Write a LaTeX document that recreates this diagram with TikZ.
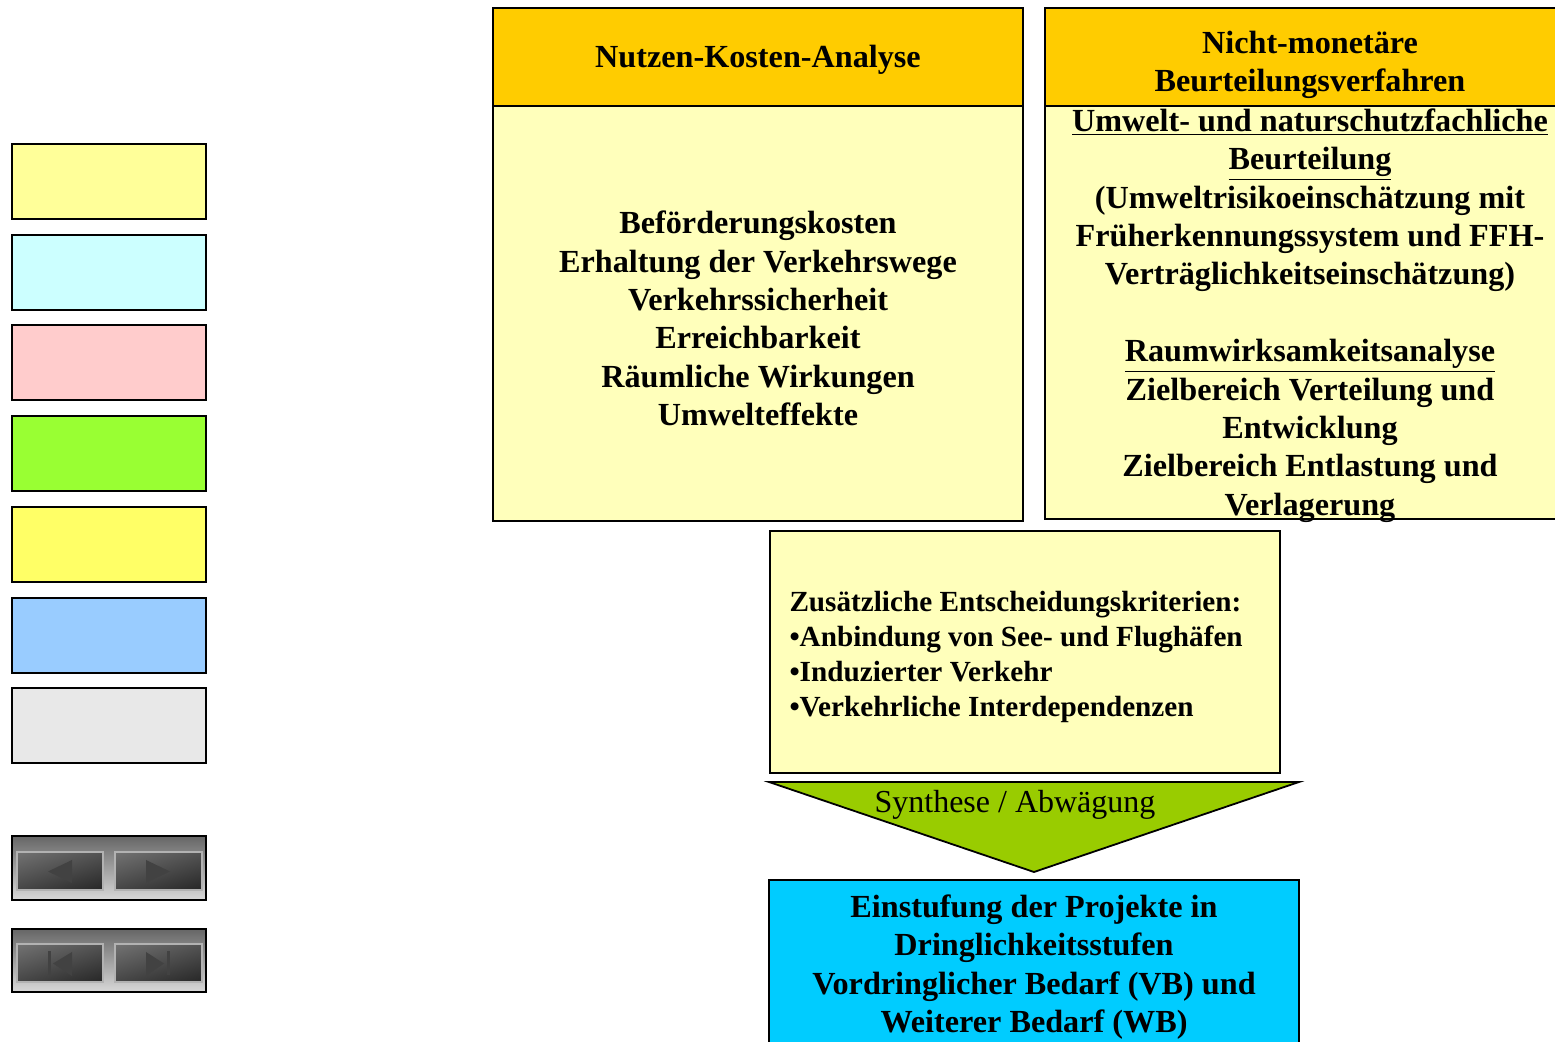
\documentclass[tikz,border=0pt]{standalone}
\usepackage{fontspec}
\setmainfont{Liberation Serif}
\usepackage{xcolor}
\usetikzlibrary{positioning,shadings}
\definecolor{kopf}{HTML}{FFCC00}
\definecolor{hellgelb}{HTML}{FFFFBB}
\definecolor{legA}{HTML}{FFFF99}
\definecolor{legB}{HTML}{CCFFFF}
\definecolor{legC}{HTML}{FFCCCC}
\definecolor{legD}{HTML}{99FF33}
\definecolor{legE}{HTML}{FFFF66}
\definecolor{legF}{HTML}{99CCFF}
\definecolor{legG}{HTML}{E8E8E8}
\definecolor{pfeilgruen}{HTML}{99CC00}
\definecolor{ergebnis}{HTML}{00CCFF}
\definecolor{knopfpfeil}{HTML}{424242}

\begin{document}
\begin{tikzpicture}[x=0.5pt,y=-0.5pt,
    legende/.style={draw, line width=1.2pt, minimum width=97pt, minimum height=37.5pt, inner sep=0pt},
    kasten/.style={draw, line width=0.9pt, inner sep=0pt, minimum width=265pt},
    fett/.style={inner sep=0pt, align=center, font=\fontsize{16.1}{19.2}\selectfont\bfseries},
    knopf/.style={draw=gray!60, line width=0.6pt, upper left=gray!90!black, upper right=gray!65!black,
      lower left=gray!55!black, lower right=black!85},
    leiste/.style={draw=black, line width=1.2pt, top color=gray!80!black, bottom color=gray!30}]
  \useasboundingbox (0,0) rectangle (1555,1042);
  % Legende
  \node[legende, fill=legA] (la) at (109, 181.5) {};
  \node[legende, fill=legB] (lb) at (109, 272.5) {};
  \node[legende, fill=legC] (lc) at (109, 362.5) {};
  \node[legende, fill=legD] (ld) at (109, 453.5) {};
  \node[legende, fill=legE] (le) at (109, 544.5) {};
  \node[legende, fill=legF] (lf) at (109, 635.5) {};
  \node[legende, fill=legG] (lg) at (109, 725.5) {};
  % Navigation
  \shade[leiste] (12,836) rectangle (206,900);
  \shade[knopf] (17,852) rectangle (103,890);
  \shade[knopf] (115,852) rectangle (202,890);
  \fill[knopfpfeil] (48,871.5) -- (72,860) -- (72,883) -- cycle;
  \fill[knopfpfeil] (170,871.5) -- (146,860) -- (146,883) -- cycle;
  \shade[leiste] (12,929) rectangle (206,992);
  \shade[knopf] (17,944) rectangle (103,982);
  \shade[knopf] (115,944) rectangle (202,982);
  \fill[knopfpfeil] (48,951) rectangle (51,975);
  \fill[knopfpfeil] (53,963.5) -- (72,952) -- (72,976) -- cycle;
  \fill[knopfpfeil] (164,963.5) -- (146,952) -- (146,976) -- cycle;
  \fill[knopfpfeil] (167,951) rectangle (170,975);
  % Kopfzeilen
  \node[kasten, fill=kopf, minimum height=49pt] (nka) at (758, 57) {};
  \node[kasten, fill=kopf, minimum height=49pt] (nmb) at (1310, 57) {};
  \node[fett] (nkatitel) at ([yshift=-1.5pt]nka.center) {Nutzen-Kosten-Analyse};
  \node[fett] (nmbtitel) at ([yshift=-4pt]nmb.center) {Nicht-monetäre\\Beurteilungsverfahren};
  % Inhalte
  \node[kasten, fill=hellgelb, minimum height=207.5pt] (nkainhalt) at (758, 313.5) {};
  \node[kasten, fill=hellgelb, minimum height=206.5pt] (nmbinhalt) at (1310, 312.5) {};
  \node[fett] (nkatext) at ([yshift=-2.5pt]nkainhalt.center)
    {Beförderungskosten\\Erhaltung der Verkehrswege\\Verkehrssicherheit\\Erreichbarkeit\\Räumliche Wirkungen\\Umwelteffekte};
  \node[fett] (nmbtext) at ([yshift=-1.5pt]nmbinhalt.center)
    {\underline{Umwelt- und naturschutzfachliche}\\\underline{Beurteilung}\\(Umweltrisikoeinschätzung mit\\Früherkennungssystem und FFH-\\Verträglichkeitseinschätzung)\\[19.2pt]\underline{Raumwirksamkeitsanalyse}\\Zielbereich Verteilung und\\Entwicklung\\Zielbereich Entlastung und\\Verlagerung};
  \node[kasten, fill=hellgelb, minimum width=255pt, minimum height=121pt] (kriterien) at (1025, 652) {};
  \node[fett, align=left, anchor=west, font=\fontsize{14.6}{17.5}\selectfont\bfseries] (kriterientext)
    at ([xshift=10pt,yshift=-2.5pt]kriterien.west)
    {Zusätzliche Entscheidungskriterien:\\•Anbindung von See- und Flughäfen\\•Induzierter Verkehr\\•Verkehrliche Interdependenzen};
  % Synthese
  \filldraw[fill=pfeilgruen, line width=0.9pt] (769,782) -- (1299,782) -- (1034,872) -- cycle;
  \node[font=\fontsize{16}{19}\selectfont] (synthese) at (1015, 805) {Synthese / Abwägung};
  % Ergebnis
  \node[kasten, fill=ergebnis, minimum height=84pt] (einstufung) at (1034, 964) {};
  \node[fett] (einstufungtext) at ([yshift=-1.5pt]einstufung.center)
    {Einstufung der Projekte in\\Dringlichkeitsstufen\\Vordringlicher Bedarf (VB) und\\Weiterer Bedarf (WB)};
\end{tikzpicture}
\end{document}
